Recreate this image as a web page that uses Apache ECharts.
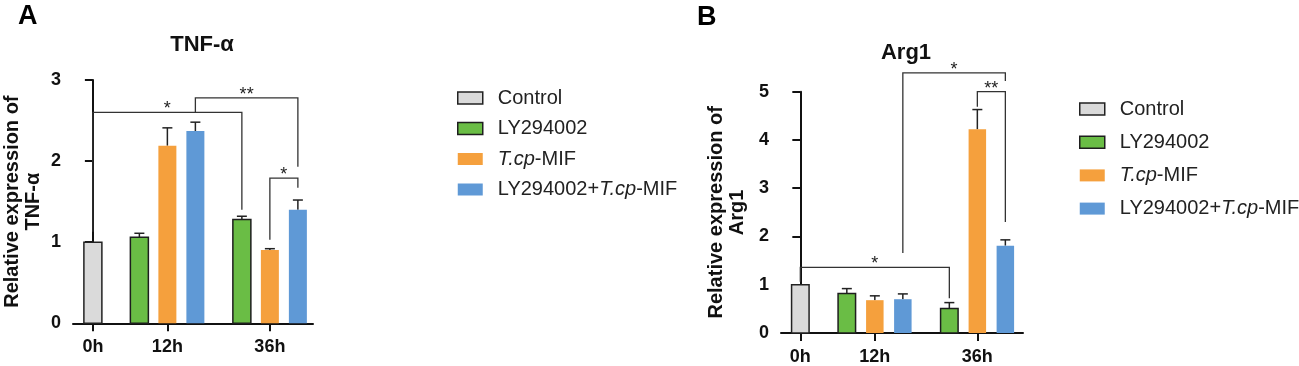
<!DOCTYPE html>
<html>
<head>
<meta charset="utf-8">
<script src="https://cdn.jsdelivr.net/npm/echarts@6/dist/echarts.min.js"></script>
<style>
html,body{margin:0;padding:0;background:#fff;}
#chart{width:1299px;height:366px;}
</style>
</head>
<body>
<div id="chart"></div>
<script>
// ---------- DATA ----------
const categories = ['0h', '12h', '36h'];
const seriesNames = ['Control', 'LY294002', 'T.cp-MIF', 'LY294002+T.cp-MIF'];
const yTicksA = [0, 1, 2, 3];
const yTicksB = [0, 1, 2, 3, 4, 5];

// Panel A: TNF-α (mean, SEM per time point)
const tnfControl    = [1.00, null, null];
const tnfControlSem = [0, null, null];
const tnfLY         = [null, 1.06, 1.28];
const tnfLYSem      = [null, 0.05, 0.04];
const tnfTcp        = [null, 2.19, 0.905];
const tnfTcpSem     = [null, 0.22, 0.015];
const tnfCombo      = [null, 2.37, 1.40];
const tnfComboSem   = [null, 0.11, 0.12];

// Panel B: Arg1
const argControl    = [1.00, null, null];
const argControlSem = [0, null, null];
const argLY         = [null, 0.82, 0.51];
const argLYSem      = [null, 0.10, 0.12];
const argTcp        = [null, 0.68, 4.22];
const argTcpSem     = [null, 0.09, 0.41];
const argCombo      = [null, 0.70, 1.81];
const argComboSem   = [null, 0.11, 0.12];

// Significance brackets: [fromTime, fromSeries, toTime, toSeries, lineLevel, leftEnd, rightEnd, label]
const tnfBrackets = [
  [0, 0, 2, 1, 2.60, 1.13, 1.40, '*'],
  [1, 3, 2, 3, 2.78, 2.60, 1.93, '**'],
  [2, 2, 2, 3, 1.79, 1.03, 1.67, '*']
];
const argBrackets = [
  [0, 0, 2, 1, 1.36, 1.06, 0.72, '*'],
  [1, 3, 2, 3, 5.39, 1.66, 5.22, '*'],
  [2, 2, 2, 3, 5.00, 4.69, 2.30, '**']
];

// ---------- LAYOUT / STYLE ----------
const FONT = '"Liberation Sans", Arial, Helvetica, sans-serif';
const timeCenters = [0, 2.66, 6.32];
const seriesOffsets = [0, -1, 0, 1];
const fills = ['#dadada', '#6abd45', '#f5a03d', '#5f99d6'];
const borders = ['#222222', '#1e1e1e', null, null];

function barSeries(k, values, sems, gi, barW) {
  const data = [];
  values.forEach(function (v, i) {
    if (v != null) data.push([timeCenters[i] + seriesOffsets[k], v, v + (sems[i] || 0)]);
  });
  const fill = fills[k], border = borders[k];
  return {
    type: 'custom', name: seriesNames[k], xAxisIndex: gi, yAxisIndex: gi,
    itemStyle: { color: fill },
    encode: { x: 0, y: 1 },
    data: data,
    renderItem: function (params, api) {
      const x = api.value(0), y = api.value(1), e = api.value(2);
      const top = api.coord([x, y]);
      const base = api.coord([x, 0]);
      const children = [];
      if (e > y + 1e-9) {
        const et = api.coord([x, e]);
        children.push({ type: 'line', shape: { x1: top[0], y1: top[1], x2: top[0], y2: et[1] }, style: { stroke: '#222', lineWidth: 1.5 } });
        children.push({ type: 'line', shape: { x1: top[0] - 5, y1: et[1], x2: top[0] + 5, y2: et[1] }, style: { stroke: '#222', lineWidth: 1.5 } });
      }
      children.push({
        type: 'rect',
        shape: { x: top[0] - barW / 2, y: top[1], width: barW, height: base[1] - top[1] },
        style: { fill: fill, stroke: border || null, lineWidth: border ? 1.5 : 0 }
      });
      return { type: 'group', children: children };
    }
  };
}

function bracketSeries(list, gi) {
  const data = list.map(function (b) {
    return [timeCenters[b[0]] + seriesOffsets[b[1]], timeCenters[b[2]] + seriesOffsets[b[3]], b[4], b[5], b[6]];
  });
  return {
    type: 'custom', xAxisIndex: gi, yAxisIndex: gi, silent: true, clip: false,
    encode: { x: 0, y: 2 },
    data: data,
    renderItem: function (params, api) {
      const x1 = api.value(0), x2 = api.value(1), yl = api.value(2), y1 = api.value(3), y2 = api.value(4);
      const pA = api.coord([x1, y1]), pB = api.coord([x1, yl]), pC = api.coord([x2, yl]), pD = api.coord([x2, y2]);
      const label = list[params.dataIndex][7];
      return {
        type: 'group',
        children: [
          { type: 'polyline', shape: { points: [pA, pB, pC, pD] }, style: { stroke: '#333', lineWidth: 1.3, fill: null } },
          { type: 'text', style: { text: label, x: (pB[0] + pC[0]) / 2, y: pB[1] - 3, align: 'center', verticalAlign: 'middle', fontSize: 18, fontFamily: FONT, fill: '#222' } }
        ]
      };
    }
  };
}

function xAxisFor(gi, min, max) {
  return {
    type: 'value', gridIndex: gi, min: min, max: max,
    splitLine: { show: false },
    axisLine: { show: true, lineStyle: { color: '#111', width: 2 } },
    axisTick: { show: true, customValues: timeCenters, length: 8, lineStyle: { color: '#111', width: 2 } },
    axisLabel: {
      show: true, customValues: timeCenters, margin: 15,
      fontSize: 18, fontWeight: 'bold', fontFamily: FONT, color: '#111',
      formatter: function (v) {
        for (let i = 0; i < timeCenters.length; i++) if (Math.abs(v - timeCenters[i]) < 1e-6) return categories[i];
        return '';
      }
    }
  };
}

function yAxisFor(gi, ticks, name, gap) {
  return {
    type: 'value', gridIndex: gi, min: ticks[0], max: ticks[ticks.length - 1], interval: 1,
    splitLine: { show: false },
    axisLine: { show: true, lineStyle: { color: '#111', width: 2 } },
    axisTick: { show: true, length: 8, lineStyle: { color: '#111', width: 2 } },
    axisLabel: { margin: 12, fontSize: 18, fontWeight: 'bold', fontFamily: FONT, color: '#111' },
    name: name, nameLocation: 'middle', nameRotate: 90, nameGap: gap,
    nameTextStyle: { fontSize: 20, fontWeight: 'bold', fontFamily: FONT, color: '#111', lineHeight: 21 }
  };
}

function legendFor(left, top, gap) {
  return {
    orient: 'vertical', left: left, top: top, itemGap: gap,
    itemWidth: 25, itemHeight: 12, icon: 'rect', selectedMode: false,
    data: seriesNames.map(function (n, k) {
      return { name: n, itemStyle: { color: fills[k], borderColor: borders[k] || fills[k], borderWidth: borders[k] ? 1.5 : 0 } };
    }),
    formatter: function (n) {
      if (n === 'T.cp-MIF') return '{i|T.cp}{n|-MIF}';
      if (n === 'LY294002+T.cp-MIF') return '{n|LY294002+}{i|T.cp}{n|-MIF}';
      return '{n|' + n + '}';
    },
    textStyle: {
      fontSize: 20, fontFamily: FONT, color: '#222', padding: [0, 0, 0, 10],
      rich: {
        n: { fontSize: 20, fontFamily: FONT, color: '#222' },
        i: { fontSize: 20, fontFamily: FONT, color: '#222', fontStyle: 'italic' }
      }
    }
  };
}

const option = {
  backgroundColor: '#fff',
  animation: false,
  title: [
    { text: 'A', left: 13, top: -2, textStyle: { fontSize: 27, fontWeight: 'bold', fontFamily: FONT, color: '#000' } },
    { text: 'TNF-α', left: 197, top: 29, textAlign: 'center', textStyle: { fontSize: 22, fontWeight: 'bold', fontFamily: FONT, color: '#111' } },
    { text: 'B', left: 692, top: -1, textStyle: { fontSize: 27, fontWeight: 'bold', fontFamily: FONT, color: '#000' } },
    { text: 'Arg1', left: 901, top: 37, textAlign: 'center', textStyle: { fontSize: 22, fontWeight: 'bold', fontFamily: FONT, color: '#111' } }
  ],
  legend: [legendFor(452, 83, 10.5), legendFor(1074, 94, 13.2)],
  grid: [
    { left: 73, top: 80, width: 240, height: 243.3 },
    { left: 781, top: 91.7, width: 242, height: 243.3 }
  ],
  xAxis: [xAxisFor(0, -0.71, 7.86), xAxisFor(1, -0.69, 7.95)],
  yAxis: [
    yAxisFor(0, yTicksA, 'Relative expression of\nTNF-α', 29),
    yAxisFor(1, yTicksB, 'Relative expression of\nArg1', 33)
  ],
  series: [
    barSeries(0, tnfControl, tnfControlSem, 0, 18),
    barSeries(1, tnfLY, tnfLYSem, 0, 18),
    barSeries(2, tnfTcp, tnfTcpSem, 0, 18),
    barSeries(3, tnfCombo, tnfComboSem, 0, 18),
    bracketSeries(tnfBrackets, 0),
    barSeries(0, argControl, argControlSem, 1, 17.5),
    barSeries(1, argLY, argLYSem, 1, 17.5),
    barSeries(2, argTcp, argTcpSem, 1, 17.5),
    barSeries(3, argCombo, argComboSem, 1, 17.5),
    bracketSeries(argBrackets, 1)
  ]
};

const chart = echarts.init(document.getElementById('chart'), null, { renderer: 'canvas' });
chart.setOption(option);
</script>
</body>
</html>
